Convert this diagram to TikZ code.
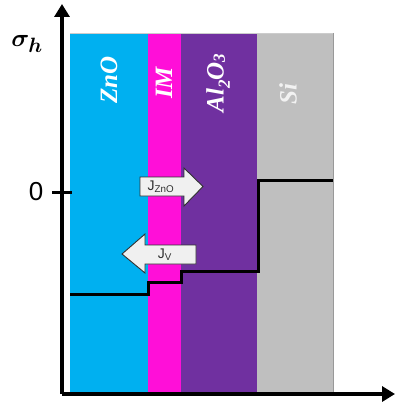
\documentclass[tikz,border=0pt]{standalone}
\usepackage{fontspec}
\usepackage{amsmath,bm}
\setsansfont{Liberation Sans}
\newfontfamily\labfont{Liberation Serif}
\usetikzlibrary{arrows.meta}
\definecolor{znoc}{HTML}{00B0F0}
\definecolor{imc}{HTML}{FF0FD8}
\definecolor{alc}{HTML}{7030A0}
\definecolor{sic}{HTML}{BFBFBF}
\definecolor{arrfill}{HTML}{F0F0F0}
\definecolor{arrdraw}{HTML}{303030}
\begin{document}
\begin{tikzpicture}[x=1pt,y=-1pt,
  bandlabel/.style={text=white,font=\labfont\fontsize{25}{25}\selectfont\bfseries\itshape,rotate=90,inner sep=0},
  axis/.style={line width=3.5pt,-{Triangle[width=15pt,length=13pt]}},
  stepline/.style={line width=3pt,line join=miter},
  blockarrow/.style={fill=arrfill,draw=arrdraw,line width=0.9pt},
  arrtext/.style={text=arrdraw,font=\sffamily\fontsize{14}{14}\selectfont,inner sep=0}]
\useasboundingbox (0,0) rectangle (395,406);
% bands
\fill[znoc] (70,33) rectangle (148,392);
\fill[imc] (148,33) rectangle (181,392);
\fill[alc] (181,33) rectangle (257,392);
\fill[sic] (257,33) rectangle (333,392);
\draw[gray!80,line width=1pt] (333,33) -- (333,392);
\draw[gray!40,line width=0.6pt] (70,33) -- (333,33);
% band labels
\node[bandlabel] (zno) at (109,80) {ZnO};
\node[bandlabel] (im) at (164,83) {IM};
\node[bandlabel] (al) at (218,83) {Al\raisebox{-0.25em}{\fontsize{17}{17}\selectfont 2}O\raisebox{-0.05em}{\fontsize{17}{17}\selectfont 3}};
\node[bandlabel,text=white!80!sic] (si) at (288,94) {Si};
% step line
\draw[stepline] (70,294) -- (148,294) -- (148,282) -- (181,282) -- (181,271) -- (258,271) -- (258,180) -- (333,180);
% axes
\coordinate (o) at (62,394);
\coordinate (ytip) at (62,4);
\coordinate (xtip) at (395,394);
\draw[axis] (o) -- (ytip);
\draw[axis] (62,394) -- (xtip);
\draw[line width=3pt] (52,192) -- (72,192);
\node[font=\sffamily\fontsize{26}{26}\selectfont] (zero) at (36,192) {0};
\node (sig) at (27,44) {\fontsize{32}{32}\selectfont$\bm{\sigma_h}$};
% block arrows
\draw[blockarrow] (140,177) -- (184,177) -- (184,168) -- (203,186.5) -- (184,206) -- (184,196) -- (140,196) -- cycle;
\node[arrtext] (jzno) at (161,187) {J\textsubscript{ZnO}};
\draw[blockarrow] (196,245) -- (145,245) -- (145,234) -- (122,254) -- (145,273) -- (145,264) -- (196,264) -- cycle;
\node[arrtext] (jv) at (165,255) {J\textsubscript{V}};
\end{tikzpicture}
\end{document}
